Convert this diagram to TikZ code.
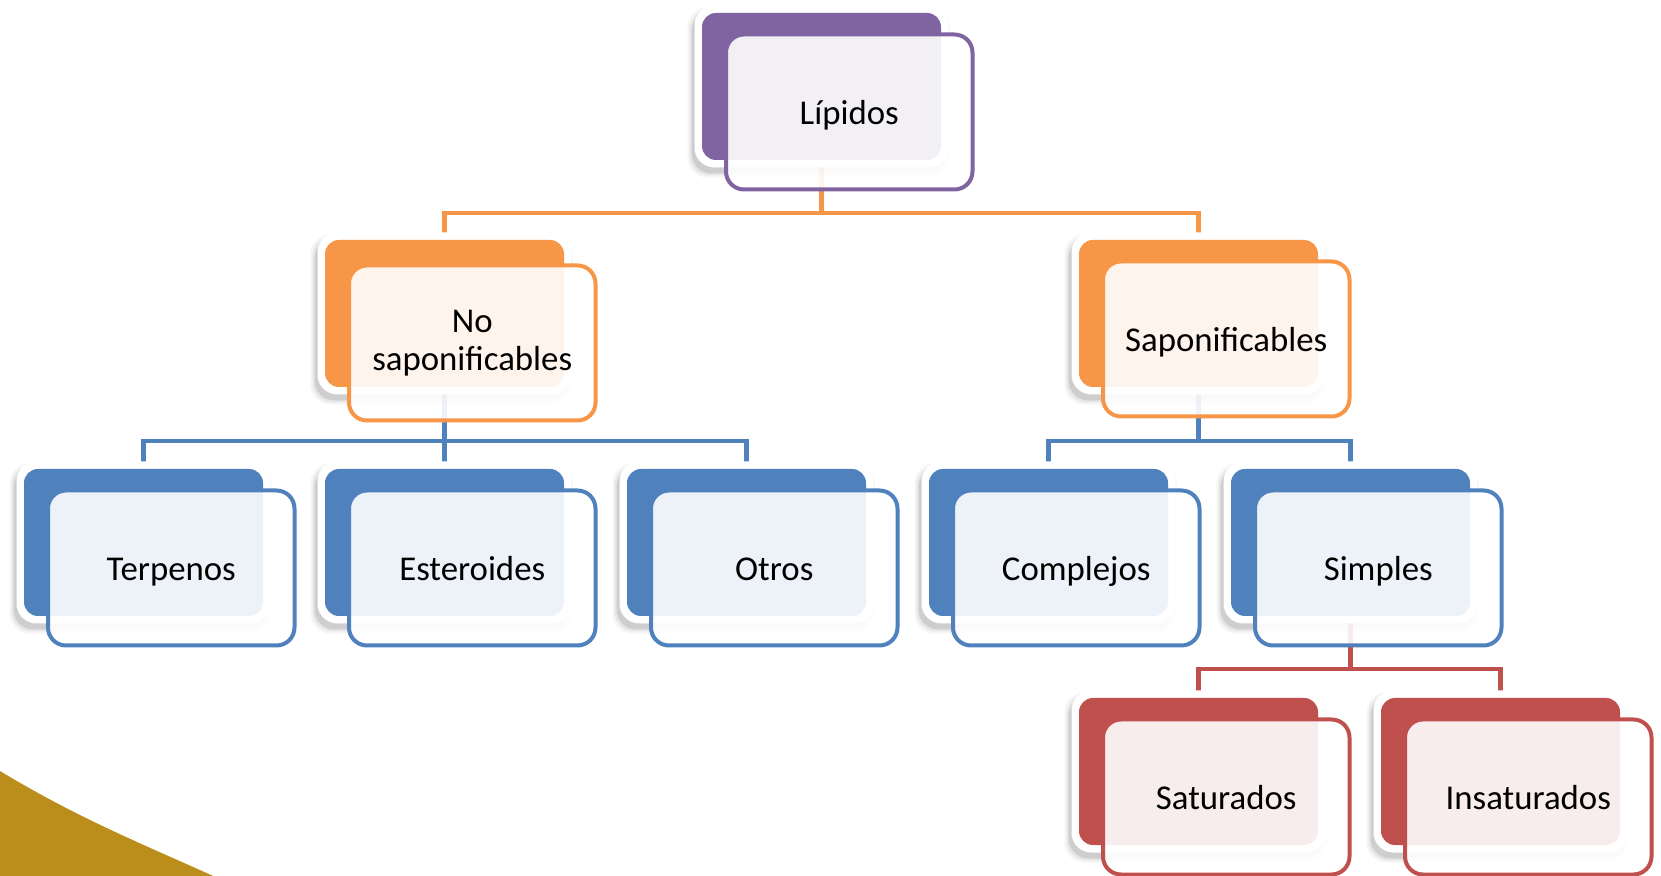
\documentclass[tikz,border=0pt]{standalone}
\usepackage{fontspec}
\setmainfont{Carlito}
\usetikzlibrary{calc}
\definecolor{cpurple}{RGB}{128,100,162}
\definecolor{corange}{RGB}{247,150,70}
\definecolor{cblue}{RGB}{79,129,189}
\definecolor{cred}{RGB}{192,80,77}
\definecolor{cgold}{RGB}{187,142,27}
\pgfdeclarelayer{bg}
\pgfsetlayers{bg,main}

\tikzset{
  outercard/.style={fill=white, rounded corners=10pt, minimum width=127pt,
    minimum height=81pt, inner sep=0pt},
  backcard/.style={fill=#1, rounded corners=7pt, minimum width=119.5pt,
    minimum height=73.5pt, inner sep=0pt},
  frontcard/.style={draw=#1, line width=2pt, fill=white, fill opacity=0.9,
    text opacity=1, rounded corners=9pt, minimum width=123.25pt,
    minimum height=77.5pt, inner sep=0pt, align=center,
    font=\fontsize{17.4}{19}\selectfont},
  oneline/.style={text height=14.5pt, text depth=1.5pt},
  twolines/.style={yshift=-2pt},
  link/.style={draw=#1, line width=2.2pt},
}

% card: name, left x, top y of the coloured tab, colour, label, label options
\newcommand\lipcard[6]{%
  \foreach \sh/\op in {0/0.10, 2/0.06, 4/0.04}{%
    \fill[black, opacity=\op, rounded corners=10pt]
      ({#2-10.5-\sh},{#3-1.5-\sh}) rectangle ({#2+243.5+\sh},{#3+160.5+\sh});
  }
  \node[outercard] (#1-frame) at ({#2+119.5},{#3+73.5}) {};
  \node[backcard=#4] (#1-back) at ({#2+119.5},{#3+73.5}) {};
  \node[frontcard=#4, #6] (#1) at ({#2+147.25},{#3+99}) {#5};
}

\begin{document}
\begin{tikzpicture}[x=0.5pt, y=-0.5pt]
  \useasboundingbox (0,0) rectangle (1661,876);

  % decorative corner
  \fill[cgold] (-5,768) .. controls (80,820) and (150,847) .. (222,880)
    -- (-5,880) -- cycle;

  \lipcard{lip}{702}{13}{cpurple}{Lípidos}{oneline}
  \lipcard{nosap}{325}{240}{corange}{No\\saponificables}{twolines}
  \lipcard{sap}{1079}{240}{corange}{Saponificables}{oneline}
  \lipcard{terp}{24}{469}{cblue}{Terpenos}{oneline}
  \lipcard{est}{325}{469}{cblue}{Esteroides}{oneline}
  \lipcard{otros}{627}{469}{cblue}{Otros}{oneline}
  \lipcard{compl}{929}{469}{cblue}{Complejos}{oneline}
  \lipcard{simp}{1231}{469}{cblue}{Simples}{oneline}
  \lipcard{sat}{1079}{698}{cred}{Saturados}{oneline}
  \lipcard{insat}{1381}{698}{cred}{Insaturados}{oneline}

  \coordinate (bar1) at (0,213);
  \coordinate (bar2) at (0,441);
  \coordinate (bar3) at (0,669);

  \begin{pgfonlayer}{bg}
    \fill[white] (0,0) rectangle (1661,876);
    \foreach \ch in {nosap, sap}
      \draw[link=corange] (lip-back.center) -- (lip-back.center |- bar1)
        -| (\ch-back.north);
    \foreach \ch in {terp, est, otros}
      \draw[link=cblue] (nosap-back.center) -- (nosap-back.center |- bar2)
        -| (\ch-back.north);
    \foreach \ch in {compl, simp}
      \draw[link=cblue] (sap-back.center) -- (sap-back.center |- bar2)
        -| (\ch-back.north);
    \foreach \ch in {sat, insat}
      \draw[link=cred] (simp-back.center) -- (simp-back.center |- bar3)
        -| (\ch-back.north);
  \end{pgfonlayer}
\end{tikzpicture}
\end{document}
